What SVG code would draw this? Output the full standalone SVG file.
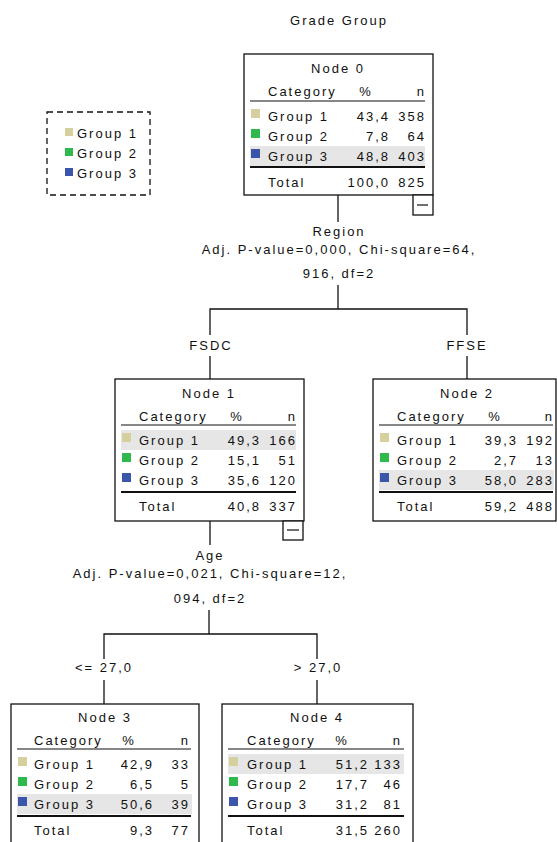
<svg xmlns="http://www.w3.org/2000/svg" width="557" height="842" viewBox="0 0 557 842">
<style>
text{font-family:"Liberation Sans",Arial,sans-serif;font-size:13px;letter-spacing:2px;fill:#111}
.m{text-anchor:middle}
.e{text-anchor:end}
.box{fill:#fff;stroke:#111;stroke-width:1.3}
.ln{stroke:#111;stroke-width:1.3;fill:none}
.hl{stroke:#111;stroke-width:1.2}
.hl2{stroke:#111;stroke-width:2}
.hi{fill:#e6e6e6}
.g1{fill:#d6d09e}
.g2{fill:#2fb84c}
.g3{fill:#3b55aa}
</style>
<rect width="557" height="842" fill="#fff"/>
<text class="m" x="339" y="25">Grade Group</text>

<g id="legend">
<rect x="47" y="112" width="103" height="83" fill="none" stroke="#111" stroke-width="1.3" stroke-dasharray="6,4"/>
<rect class="g1" x="65" y="128" width="8" height="8"/><text x="77" y="138">Group 1</text>
<rect class="g2" x="65" y="148" width="8" height="8"/><text x="77" y="158">Group 2</text>
<rect class="g3" x="65" y="168" width="8" height="8"/><text x="77" y="178">Group 3</text>
</g>

<g id="connectors">
<line class="ln" x1="338" y1="195" x2="338" y2="222"/>
<text class="m" x="339" y="236">Region</text>
<text class="m" x="339" y="254">Adj. P-value=0,000, Chi-square=64,</text>
<text class="m" x="339" y="278">916, df=2</text>
<line class="ln" x1="338" y1="285" x2="338" y2="309"/>
<polyline class="ln" points="210,335 210,309 467,309 467,335"/>
<text class="m" x="211" y="350">FSDC</text>
<text class="m" x="467" y="350">FFSE</text>
<line class="ln" x1="210" y1="356" x2="210" y2="379"/>
<line class="ln" x1="467" y1="356" x2="467" y2="379"/>
<line class="ln" x1="210" y1="521" x2="210" y2="545"/>
<text class="m" x="210" y="560">Age</text>
<text class="m" x="210" y="578">Adj. P-value=0,021, Chi-square=12,</text>
<text class="m" x="210" y="603">094, df=2</text>
<line class="ln" x1="209" y1="610" x2="209" y2="634"/>
<polyline class="ln" points="104,659 104,634 317,634 317,659"/>
<text class="m" x="104" y="672">&lt;= 27,0</text>
<text class="m" x="318" y="672">&gt; 27,0</text>
<line class="ln" x1="104" y1="680" x2="104" y2="704"/>
<line class="ln" x1="317" y1="680" x2="317" y2="704"/>
</g>

<g id="node0" transform="translate(244,54)">
<rect class="box" x="0" y="0" width="189" height="141"/>
<rect class="hi" x="6" y="92" width="175" height="20"/>
<text class="m" x="94" y="19">Node 0</text>
<text x="24" y="42">Category</text><text class="m" x="122" y="42">%</text><text class="e" x="182" y="42">n</text>
<line class="hl" x1="6" y1="47" x2="181" y2="47"/>
<rect class="g1" x="7" y="55" width="9" height="9"/><text x="24" y="67">Group 1</text><text class="e" x="146" y="67">43,4</text><text class="e" x="182" y="67">358</text>
<rect class="g2" x="7" y="75" width="9" height="9"/><text x="24" y="87">Group 2</text><text class="e" x="146" y="87">7,8</text><text class="e" x="182" y="87">64</text>
<rect class="g3" x="7" y="95" width="9" height="9"/><text x="24" y="107">Group 3</text><text class="e" x="146" y="107">48,8</text><text class="e" x="182" y="107">403</text>
<line class="hl2" x1="6" y1="113" x2="181" y2="113"/>
<text x="24" y="133">Total</text><text class="e" x="146" y="133">100,0</text><text class="e" x="182" y="133">825</text>
<rect class="box" x="169" y="141" width="20" height="20"/>
<line class="hl" x1="173" y1="151" x2="184" y2="151"/>
</g>

<g id="node1" transform="translate(115,379)">
<rect class="box" x="0" y="0" width="189" height="142"/>
<rect class="hi" x="6" y="51" width="175" height="20"/>
<text class="m" x="94" y="19">Node 1</text>
<text x="24" y="42">Category</text><text class="m" x="122" y="42">%</text><text class="e" x="182" y="42">n</text>
<line class="hl" x1="6" y1="46" x2="181" y2="46"/>
<rect class="g1" x="7" y="54" width="9" height="9"/><text x="24" y="66">Group 1</text><text class="e" x="146" y="66">49,3</text><text class="e" x="182" y="66">166</text>
<rect class="g2" x="7" y="74" width="9" height="9"/><text x="24" y="86">Group 2</text><text class="e" x="146" y="86">15,1</text><text class="e" x="182" y="86">51</text>
<rect class="g3" x="7" y="94" width="9" height="9"/><text x="24" y="106">Group 3</text><text class="e" x="146" y="106">35,6</text><text class="e" x="182" y="106">120</text>
<line class="hl2" x1="6" y1="113" x2="181" y2="113"/>
<text x="24" y="132">Total</text><text class="e" x="146" y="132">40,8</text><text class="e" x="182" y="132">337</text>
<rect class="box" x="168" y="142" width="20" height="19"/>
<line class="hl" x1="172" y1="151" x2="184" y2="151"/>
</g>

<g id="node2" transform="translate(373,379)">
<rect class="box" x="0" y="0" width="183" height="142"/>
<rect class="hi" x="6" y="91" width="175" height="20"/>
<text class="m" x="94" y="19">Node 2</text>
<text x="24" y="42">Category</text><text class="m" x="122" y="42">%</text><text class="e" x="181" y="42">n</text>
<line class="hl" x1="6" y1="46" x2="180" y2="46"/>
<rect class="g1" x="7" y="54" width="9" height="9"/><text x="24" y="66">Group 1</text><text class="e" x="145" y="66">39,3</text><text class="e" x="181" y="66">192</text>
<rect class="g2" x="7" y="74" width="9" height="9"/><text x="24" y="86">Group 2</text><text class="e" x="145" y="86">2,7</text><text class="e" x="181" y="86">13</text>
<rect class="g3" x="7" y="94" width="9" height="9"/><text x="24" y="106">Group 3</text><text class="e" x="145" y="106">58,0</text><text class="e" x="181" y="106">283</text>
<line class="hl2" x1="6" y1="113" x2="180" y2="113"/>
<text x="24" y="132">Total</text><text class="e" x="145" y="132">59,2</text><text class="e" x="181" y="132">488</text>
</g>

<g id="node3" transform="translate(11,704)">
<rect class="box" x="0" y="0" width="188" height="142"/>
<rect class="hi" x="6" y="90" width="175" height="20"/>
<text class="m" x="94" y="18">Node 3</text>
<text x="23" y="41">Category</text><text class="m" x="118" y="41">%</text><text class="e" x="179" y="41">n</text>
<line class="hl" x1="6" y1="45" x2="180" y2="45"/>
<rect class="g1" x="7" y="53" width="9" height="9"/><text x="23" y="65">Group 1</text><text class="e" x="143" y="65">42,9</text><text class="e" x="179" y="65">33</text>
<rect class="g2" x="7" y="73" width="9" height="9"/><text x="23" y="85">Group 2</text><text class="e" x="143" y="85">6,5</text><text class="e" x="179" y="85">5</text>
<rect class="g3" x="7" y="93" width="9" height="9"/><text x="23" y="105">Group 3</text><text class="e" x="143" y="105">50,6</text><text class="e" x="179" y="105">39</text>
<line class="hl2" x1="6" y1="112" x2="180" y2="112"/>
<text x="23" y="131">Total</text><text class="e" x="143" y="131">9,3</text><text class="e" x="179" y="131">77</text>
</g>

<g id="node4" transform="translate(222,704)">
<rect class="box" x="0" y="0" width="191" height="142"/>
<rect class="hi" x="6" y="50" width="176" height="20"/>
<text class="m" x="95" y="18">Node 4</text>
<text x="25" y="41">Category</text><text class="m" x="120" y="41">%</text><text class="e" x="180" y="41">n</text>
<line class="hl" x1="6" y1="45" x2="182" y2="45"/>
<rect class="g1" x="7" y="53" width="9" height="9"/><text x="25" y="65">Group 1</text><text class="e" x="147" y="65">51,2</text><text class="e" x="180" y="65">133</text>
<rect class="g2" x="7" y="73" width="9" height="9"/><text x="25" y="85">Group 2</text><text class="e" x="147" y="85">17,7</text><text class="e" x="180" y="85">46</text>
<rect class="g3" x="7" y="93" width="9" height="9"/><text x="25" y="105">Group 3</text><text class="e" x="147" y="105">31,2</text><text class="e" x="180" y="105">81</text>
<line class="hl2" x1="6" y1="112" x2="182" y2="112"/>
<text x="25" y="131">Total</text><text class="e" x="147" y="131">31,5</text><text class="e" x="180" y="131">260</text>
</g>
</svg>
